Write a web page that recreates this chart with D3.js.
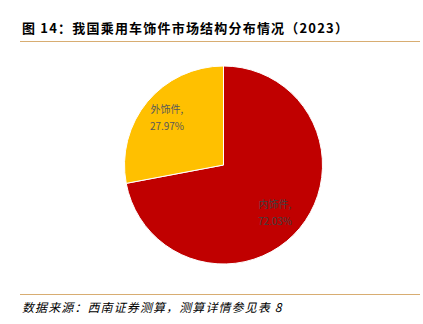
<!DOCTYPE html>
<html><head><meta charset="utf-8">
<script src="https://cdn.jsdelivr.net/npm/d3@7"></script>
<style>body{margin:0;background:#fff}svg{display:block}</style>
</head><body>
<svg id="c" width="423" height="324"></svg>
<script>
const categories = ["内饰件", "外饰件"];
const values = [72.03, 27.97];
const labels = ["72.03%", "27.97%"];
const colors = ["#C00000", "#FFC000"];
const title = "图 14：我国乘用车饰件市场结构分布情况（2023）";
const source = "数据来源：西南证券测算，测算详情参见表 8";

const svg = d3.select("#c");
const font = "'Noto Sans CJK SC', 'Liberation Sans', sans-serif";

svg.append("text").attr("x", 22).attr("y", 33)
  .attr("font-family", font).attr("font-size", 13).attr("font-weight", "bold")
  .attr("letter-spacing", 1.2).attr("fill", "#000").text(title);

svg.append("line").attr("x1", 20).attr("x2", 420).attr("y1", 41.5).attr("y2", 41.5)
  .attr("stroke", "#D8AD72").attr("stroke-width", 1);
svg.append("line").attr("x1", 20).attr("x2", 420).attr("y1", 294.5).attr("y2", 294.5)
  .attr("stroke", "#D8AD72").attr("stroke-width", 1);

svg.append("text").attr("x", 22).attr("y", 312)
  .attr("font-family", font).attr("font-size", 12).attr("font-style", "italic")
  .attr("letter-spacing", 1.1).attr("fill", "#000").text(source);

const cx = 223.5, cy = 165, r = 99;
const pie = d3.pie().sort(null).value(d => d)(values);
const arc = d3.arc().innerRadius(0).outerRadius(r);
const g = svg.append("g").attr("transform", `translate(${cx},${cy})`);
g.selectAll("path").data(pie).join("path")
  .attr("d", arc).attr("fill", (d, i) => colors[i])
  .attr("stroke", "#fff").attr("stroke-width", 1);

const labelPos = [[275, 208], [167, 113]];
const labelColors = ["#404040", "#595959"];
categories.forEach((c, i) => {
  const t = svg.append("text").attr("text-anchor", "middle")
    .attr("font-family", font).attr("font-size", 10).attr("fill", labelColors[i]);
  t.append("tspan").attr("x", labelPos[i][0]).attr("y", labelPos[i][1]).text(c + ",");
  t.append("tspan").attr("x", labelPos[i][0]).attr("y", labelPos[i][1] + 17).text(labels[i]);
});
</script>
</body></html>
